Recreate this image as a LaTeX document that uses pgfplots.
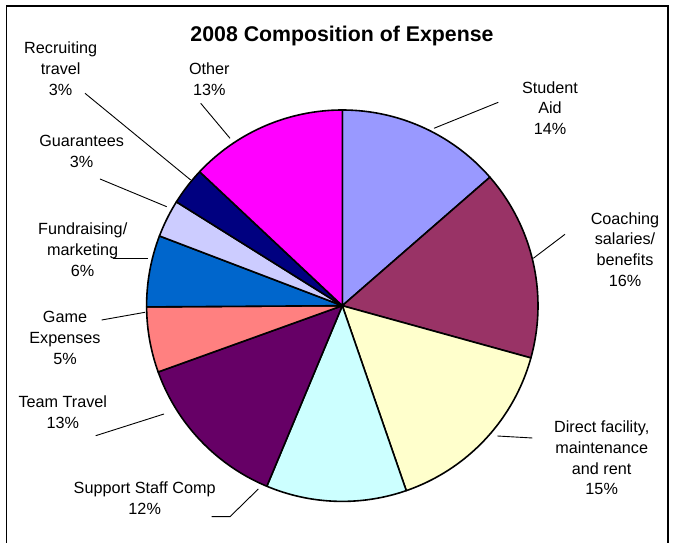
\documentclass[border=0pt]{standalone}
\usepackage{fontspec}
\setmainfont{Liberation Sans}
\usepackage{pgfplots}
\pgfplotsset{compat=1.18}
\definecolor{sa}{HTML}{9999FF}
\definecolor{co}{HTML}{993366}
\definecolor{df}{HTML}{FFFFCC}
\definecolor{ss}{HTML}{CCFFFF}
\definecolor{tt}{HTML}{660066}
\definecolor{ge}{HTML}{FF8080}
\definecolor{fm}{HTML}{0066CC}
\definecolor{gu}{HTML}{CCCCFF}
\definecolor{rt}{HTML}{000080}
\definecolor{ot}{HTML}{FF00FF}
\newcommand{\lab}{\fontsize{16.2}{20.8}\selectfont}
\begin{document}
\begin{tikzpicture}
\begin{axis}[
  scale only axis, width=673pt, height=543pt,
  xmin=0, xmax=673, ymin=0, ymax=543,
  hide axis, clip=false,
]
% slice values (percent), clockwise from 12 o'clock
\xdef\cum{0}
\foreach \v/\c in {13.6/sa, 15.7/co, 15.4/df, 11.6/ss, 13.2/tt, 5.4/ge, 5.9/fm, 3.1/gu, 3.1/rt, 13.0/ot}{
  \pgfmathsetmacro\e{\cum+\v}
  \edef\doit{\noexpand\addplot[fill=\c, draw=black, line width=1.6pt, line join=round, domain=\cum:\e, samples=60]
    ({342.3+195.7*sin(3.6*x)},{237.3+195.7*cos(3.6*x)}) -- (axis cs:342.3,237.3) -- cycle;}
  \doit
  \xdef\cum{\e}
}
% leader lines
\addplot[black, line width=0.9pt] coordinates {(498.3,440.7) (434,414.7)};
\addplot[black, line width=0.9pt] coordinates {(565,308.7) (533.3,284.7)};
\addplot[black, line width=0.9pt] coordinates {(497.3,107) (532.3,105)};
\addplot[black, line width=0.9pt] coordinates {(258.3,54) (230,26.3) (211.7,26.3)};
\addplot[black, line width=0.9pt] coordinates {(164,129) (95.7,107.3)};
\addplot[black, line width=0.9pt] coordinates {(101.7,223) (145,230.7)};
\addplot[black, line width=0.9pt] coordinates {(113.3,284.3) (148,284.3)};
\addplot[black, line width=0.9pt] coordinates {(100,364) (166.7,336.3)};
\addplot[black, line width=0.9pt] coordinates {(85,449.7) (190.7,363)};
\addplot[black, line width=0.9pt] coordinates {(200.7,439.7) (230,404.7)};
% frame
\addplot[black, line width=1.3pt] coordinates {(6.7,-5) (6.7,537) (668,537) (668,-5)};
% labels
\node[font=\fontsize{21.3}{24}\selectfont\bfseries] at (axis cs:342,507) {2008 Composition of Expense};
\node[align=center, font=\lab] at (axis cs:550,435) {Student\\Aid\\14\%};
\node[align=center, font=\lab] at (axis cs:625,293.4) {Coaching\\salaries/\\benefits\\16\%};
\node[align=center, font=\lab] at (axis cs:601.7,85) {Direct facility,\\maintenance\\and rent\\15\%};
\node[align=center, font=\lab] at (axis cs:144.7,45.2) {Support Staff Comp\\12\%};
\node[align=center, font=\lab] at (axis cs:62.8,130.5) {Team Travel\\13\%};
\node[align=center, font=\lab] at (axis cs:65,204.8) {Game\\Expenses\\5\%};
\node[align=center, font=\lab] at (axis cs:82.7,293.3) {Fundraising/\\marketing\\6\%};
\node[align=center, font=\lab] at (axis cs:81.7,391.5) {Guarantees\\3\%};
\node[align=center, font=\lab] at (axis cs:60.7,474.1) {Recruiting\\travel\\3\%};
\node[align=center, font=\lab] at (axis cs:209.3,463.5) {Other\\13\%};
\end{axis}
\pgfresetboundingbox
\useasboundingbox (0,0) rectangle (673pt,543pt);
\end{tikzpicture}
\end{document}
